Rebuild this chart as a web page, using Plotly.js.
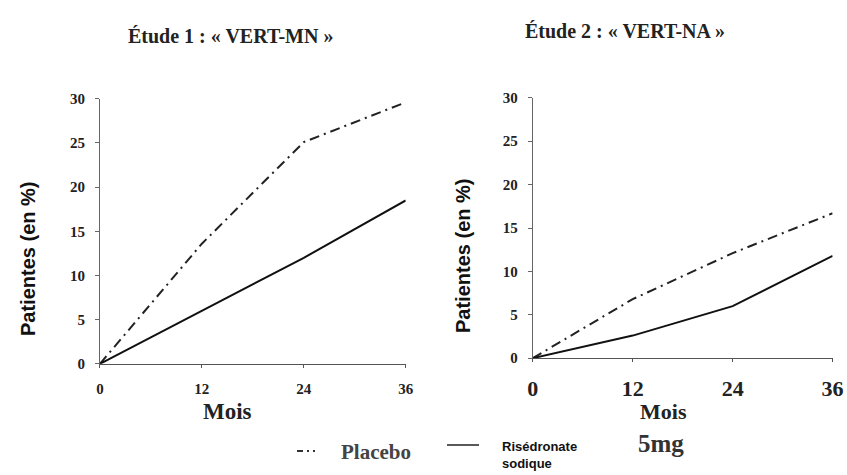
<!DOCTYPE html>
<html>
<head>
<meta charset="utf-8">
<script src="https://cdn.plot.ly/plotly-3.0.1.min.js"></script>
<style>html,body{margin:0;padding:0;background:#fff}#chart{width:847px;height:475px}</style>
</head>
<body>
<div id="chart"></div>
<script>
const months = [0, 12, 24, 36];
const mnPlacebo = [0, 13.6, 25.1, 29.6];
const mnRisedronate = [0, 6.0, 12.0, 18.5];
const naPlacebo = [0, 6.8, 12.1, 16.7];
const naRisedronate = [0, 2.6, 6.0, 11.8];
const xTicks = [0, 12, 24, 36];
const yTicks = [0, 5, 10, 15, 20, 25, 30];
const titles = ['Étude 1 : « VERT-MN »', 'Étude 2 : « VERT-NA »'];
const yTitle = 'Patientes (en %)';
const xTitle = 'Mois';
const legendPlacebo = 'Placebo';
const legendRis = 'Risédronate<br>sodique';
const legendDose = '5mg';

const dashStyle = '10px,5px,2px,5px';
const serif = 'Liberation Serif, DejaVu Serif, serif';
const sans = 'Liberation Sans, Arial, sans-serif';

const traces = [
  {x: months, y: mnPlacebo, xaxis: 'x', yaxis: 'y', mode: 'lines', line: {color: '#222', width: 2, dash: dashStyle}, name: 'Placebo'},
  {x: months, y: mnRisedronate, xaxis: 'x', yaxis: 'y', mode: 'lines', line: {color: '#111', width: 2}, name: 'Risédronate sodique 5mg'},
  {x: months, y: naPlacebo, xaxis: 'x2', yaxis: 'y2', mode: 'lines', line: {color: '#222', width: 2, dash: dashStyle}, name: 'Placebo'},
  {x: months, y: naRisedronate, xaxis: 'x2', yaxis: 'y2', mode: 'lines', line: {color: '#111', width: 2}, name: 'Risédronate sodique 5mg'}
];

function xax(domain, anchor, size, standoff) {
  return {domain: domain, anchor: anchor, range: [0, 36], tickvals: xTicks, ticktext: xTicks.map(String),
    showgrid: false, zeroline: false, showline: true, linecolor: '#555', linewidth: 1,
    ticks: 'outside', ticklen: 3, tickcolor: '#555', ticklabelstandoff: standoff,
    tickfont: {family: serif, size: size, color: '#222', weight: 'bold'}, fixedrange: true};
}
function yax(domain, anchor, size, standoff) {
  return {domain: domain, anchor: anchor, range: [0, 30], tickvals: yTicks, ticktext: yTicks.map(String),
    showgrid: false, zeroline: false, showline: true, linecolor: '#666', linewidth: 1,
    ticks: 'outside', ticklen: 4, tickcolor: '#666', ticklabelstandoff: standoff,
    tickfont: {family: serif, size: size, color: '#222', weight: 'bold'}, fixedrange: true};
}

function ann(text, px, py, font, extra) {
  return Object.assign({text: text, xref: 'paper', yref: 'paper', x: px/847, y: 1-py/475,
    xanchor: 'center', yanchor: 'middle', showarrow: false, font: font}, extra || {});
}

const layout = {
  width: 847, height: 475,
  margin: {l: 0, r: 0, t: 0, b: 0},
  paper_bgcolor: '#fff', plot_bgcolor: '#fff',
  showlegend: false,
  xaxis: xax([0.118, 0.479], 'y', 15, 8),
  yaxis: yax([0.234, 0.792], 'x', 15, 7),
  xaxis2: xax([0.629, 0.983], 'y2', 22, 7),
  yaxis2: yax([0.246, 0.794], 'x2', 15, 7),
  shapes: [
    {type: 'line', xref: 'paper', yref: 'paper', x0: 297/847, x1: 318/847, y0: 1-451/475, y1: 1-451/475, line: {color: '#333', width: 2, dash: '6px,4px,2px,4px,2px,4px'}},
    {type: 'line', xref: 'paper', yref: 'paper', x0: 447/847, x1: 479/847, y0: 1-445/475, y1: 1-445/475, line: {color: '#222', width: 1.5}}
  ],
  annotations: [
    ann(titles[0], 230, 36, {family: serif, size: 20, color: '#222', weight: 'bold'}),
    ann(titles[1], 625, 31, {family: serif, size: 20, color: '#222', weight: 'bold'}),
    ann(yTitle, 28, 259, {family: sans, size: 20, color: '#111', weight: 'bold'}, {textangle: -90}),
    ann(yTitle, 463, 256, {family: sans, size: 20, color: '#111', weight: 'bold'}, {textangle: -90}),
    ann(xTitle, 227, 411, {family: serif, size: 23, color: '#222', weight: 'bold'}),
    ann(xTitle, 663, 411, {family: serif, size: 22, color: '#222', weight: 'bold'}),
    ann(legendPlacebo, 339, 452, {family: serif, size: 21, color: '#444', weight: 'bold'}, {xanchor: 'left'}),
    ann(legendRis, 500, 455, {family: sans, size: 13, color: '#111', weight: 'bold'}, {xanchor: 'left', align: 'left'}),
    ann(legendDose, 636, 443, {family: serif, size: 25, color: '#333', weight: 'bold'}, {xanchor: 'left'})
  ]
};

Plotly.newPlot('chart', traces, layout, {displayModeBar: false, staticPlot: true});
</script>
</body>
</html>
